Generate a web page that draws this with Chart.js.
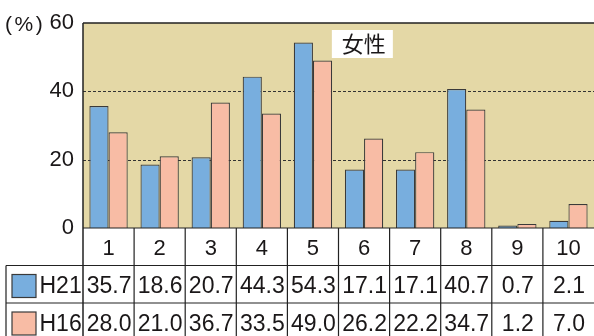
<!DOCTYPE html>
<html>
<head>
<meta charset="utf-8">
<script src="https://cdn.jsdelivr.net/npm/chart.js@4"></script>
<style>
  html, body { margin: 0; padding: 0; background: #ffffff; }
  #c { display: block; }
</style>
</head>
<body>
<canvas id="c" width="594" height="336"></canvas>
<script>
// Survey answers by item number, women, two survey years (%)
const categories = ['1', '2', '3', '4', '5', '6', '7', '8', '9', '10'];
const seriesNames = ['H21', 'H16'];
const h21Values = [35.7, 18.6, 20.7, 44.3, 54.3, 17.1, 17.1, 40.7, 0.7, 2.1];
const h16Values = [28.0, 21.0, 36.7, 33.5, 49.0, 26.2, 22.2, 34.7, 1.2, 7.0];
const yTicks = [0, 20, 40, 60];
const gridValues = [20, 40];
const unitLabel = '(%)';
const titleText = '女性';

const COLORS = {
  h21: '#78aede',
  h16: '#f8bca5',
  plotBg: '#e4d8a6',
  edge: '#3a3a3a',
  line: '#222222',
  text: '#1a1718'
};
const LATIN = '"Liberation Sans", Arial, sans-serif';
const CJK = '"Noto Sans CJK JP", "Noto Sans CJK SC", sans-serif';

const tablePlugin = {
  id: 'tablePlugin',
  beforeDraw(chart) {
    const { ctx, chartArea: a } = chart;
    ctx.save();
    ctx.fillStyle = COLORS.plotBg;
    ctx.fillRect(a.left, a.top, a.right - a.left, a.bottom - a.top);
    ctx.restore();
  },
  beforeDatasetsDraw(chart) {
    const { ctx, chartArea: a, scales: { y } } = chart;
    ctx.save();
    ctx.strokeStyle = '#333333';
    ctx.lineWidth = 1;
    ctx.setLineDash([3, 2]);
    gridValues.forEach(v => {
      const py = Math.round(y.getPixelForValue(v)) + 0.5;
      ctx.beginPath();
      ctx.moveTo(a.left, py);
      ctx.lineTo(a.right, py);
      ctx.stroke();
    });
    ctx.restore();
  },
  afterDatasetsDraw(chart) {
    const { ctx, chartArea: a, scales: { x } } = chart;
    const H = chart.height;
    const colW = (a.right - a.left) / categories.length;
    const rowH = 37.5;
    const catTop = a.bottom;
    const rowTops = [catTop + rowH, catTop + 2 * rowH];
    const tableLeft = 6;

    ctx.save();
    // plot frame: top and left edges, baseline
    ctx.strokeStyle = COLORS.line;
    ctx.lineWidth = 1.5;
    ctx.beginPath();
    ctx.moveTo(a.left, a.top);
    ctx.lineTo(a.right, a.top);
    ctx.moveTo(a.left, a.top);
    ctx.lineTo(a.left, H);
    ctx.stroke();

    ctx.lineWidth = 1.2;
    ctx.beginPath();
    ctx.moveTo(a.left, catTop);
    ctx.lineTo(a.right, catTop);
    rowTops.forEach(t => {
      ctx.moveTo(tableLeft, t);
      ctx.lineTo(a.right, t);
    });
    ctx.moveTo(tableLeft, rowTops[0]);
    ctx.lineTo(tableLeft, H);
    for (let i = 1; i < categories.length; i++) {
      const px = x.getPixelForValue(i) - colW / 2;
      ctx.moveTo(px, catTop);
      ctx.lineTo(px, H);
    }
    ctx.stroke();

    // category labels row
    ctx.fillStyle = COLORS.text;
    ctx.textAlign = 'center';
    ctx.textBaseline = 'alphabetic';
    ctx.font = '22px ' + LATIN;
    categories.forEach((c, i) => {
      ctx.fillText(c, x.getPixelForValue(i), catTop + 26.5);
    });

    // value rows with legend swatches
    const rows = [
      { name: seriesNames[0], values: h21Values, color: COLORS.h21 },
      { name: seriesNames[1], values: h16Values, color: COLORS.h16 }
    ];
    rows.forEach((r, ri) => {
      const top = rowTops[ri];
      ctx.fillStyle = r.color;
      ctx.fillRect(12, top + 9, 24, 23);
      ctx.strokeStyle = COLORS.edge;
      ctx.lineWidth = 1.2;
      ctx.strokeRect(12, top + 9, 24, 23);
      ctx.fillStyle = COLORS.text;
      ctx.font = '23px ' + LATIN;
      ctx.textAlign = 'left';
      ctx.fillText(r.name, 39.5, top + 27.5);
      ctx.textAlign = 'center';
      r.values.forEach((v, i) => {
        ctx.fillText(v.toFixed(1), x.getPixelForValue(i) + 0.5, top + 27.5);
      });
    });

    // unit label next to the top tick
    ctx.font = '21px ' + LATIN;
    ctx.textAlign = 'left';
    ctx.textBaseline = 'alphabetic';
    if ('letterSpacing' in ctx) ctx.letterSpacing = '2.5px';
    ctx.fillText(unitLabel, 5, a.top + 7.5);
    if ('letterSpacing' in ctx) ctx.letterSpacing = '0px';

    // title box inside the plot
    const bx = a.left + 0.487 * (a.right - a.left);
    const by = a.top + 7;
    ctx.fillStyle = '#ffffff';
    ctx.fillRect(bx, by, 61, 28);
    ctx.fillStyle = COLORS.text;
    ctx.font = '22px ' + CJK;
    ctx.textAlign = 'center';
    ctx.textBaseline = 'middle';
    ctx.fillText(titleText, bx + 32, by + 14);
    ctx.restore();
  }
};

new Chart(document.getElementById('c'), {
  type: 'bar',
  data: {
    labels: categories,
    datasets: [
      {
        label: seriesNames[0],
        data: h21Values,
        backgroundColor: COLORS.h21,
        borderColor: COLORS.edge,
        borderWidth: 1.2
      },
      {
        label: seriesNames[1],
        data: h16Values,
        backgroundColor: COLORS.h16,
        borderColor: COLORS.edge,
        borderWidth: 1.2
      }
    ]
  },
  options: {
    responsive: false,
    animation: false,
    devicePixelRatio: 1,
    datasets: {
      bar: { categoryPercentage: 0.75, barPercentage: 1.0 }
    },
    layout: { padding: { top: 23, right: 0, bottom: 108, left: 0 } },
    plugins: {
      legend: { display: false },
      tooltip: { enabled: false },
      title: { display: false }
    },
    scales: {
      x: {
        display: false,
        offset: true,
        grid: { display: false }
      },
      y: {
        min: 0,
        max: 60,
        afterBuildTicks: s => { s.ticks = yTicks.map(v => ({ value: v })); },
        afterFit: s => { s.width = 83; },
        grid: { display: false, drawTicks: false },
        border: { display: false },
        ticks: {
          padding: 9,
          color: COLORS.text,
          font: { family: LATIN, size: 22 }
        }
      }
    }
  },
  plugins: [tablePlugin]
});
</script>
</body>
</html>
